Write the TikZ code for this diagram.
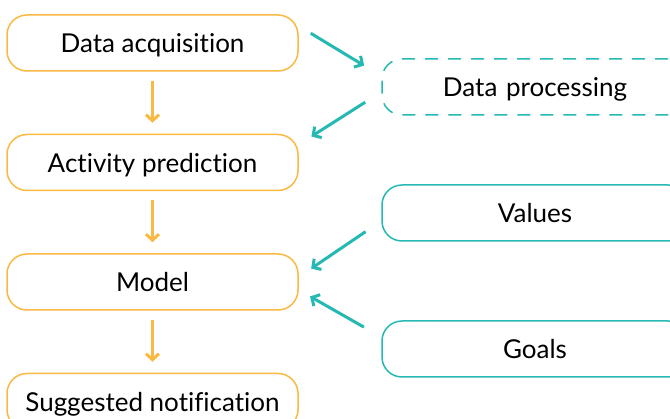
\documentclass[tikz,border=0pt]{standalone}
\usepackage{fontspec}
\setmainfont{Lato}[Ligatures={NoCommon}]
\usepackage{tikz}
\usetikzlibrary{positioning, calc, arrows.meta}
\definecolor{colorO}{RGB}{250,185,66}
\definecolor{colorT}{RGB}{38,184,178}

\begin{document}
\begin{tikzpicture}[x=1pt, y=-1pt, node distance=62pt]
	\tikzstyle{stepbox}=[minimum height = 56pt, minimum width = 291pt, rounded corners=20pt, rectangle, draw=colorO, line width=1.5pt, text height=20pt, text depth=0pt, font=\fontsize{26}{30}\selectfont]
	\tikzstyle{inbox}=[stepbox, draw=colorT, minimum width = 306pt, text width=280pt, align=center]
	\tikzstyle{flow}=[-{Straight Barb[length=6pt, width=13pt]}, line width=3pt, draw=colorO]
	\tikzstyle{feed}=[-{Straight Barb[length=6pt, width=13pt]}, line width=3pt, draw=colorT]

	\useasboundingbox (0,0) rectangle (670,419);

	\node[stepbox] (acq) at (152.5, 43) {Data acquisition};
	\node[stepbox, below=of acq] (act) {Activity prediction};
	\node[stepbox, below=of act] (model) {Model};
	\node[stepbox, below=of model] (notif) {Suggested notification};

	\node[inbox, dashed, dash pattern=on 13pt off 10pt] (proc) at (535, 87) {Data processing};
	\node[inbox] (values) at (535, 213) {Values};
	\node[inbox] (goals) at (535, 349) {Goals};

	\draw[flow, shorten <=9pt, shorten >=11pt] (acq) -- (act);
	\draw[flow, shorten <=9pt, shorten >=11pt] (act) -- (model);
	\draw[flow, shorten <=9pt, shorten >=11pt] (model) -- (notif);

	\draw[feed, shorten <=14pt, shorten >=20pt] ([yshift=17pt]acq.east) -- ([yshift=11pt]proc.west);
	\draw[feed, shorten <=19pt, shorten >=15pt] ([yshift=-5pt]proc.west) -- ([yshift=18pt]act.east);
	\draw[feed, shorten <=19pt, shorten >=15pt] ([yshift=-8pt]values.west) -- ([yshift=5pt]model.east);
	\draw[feed, shorten <=20pt, shorten >=13pt] ([yshift=12pt]goals.west) -- ([yshift=-8pt]model.east);
\end{tikzpicture}
\end{document}
